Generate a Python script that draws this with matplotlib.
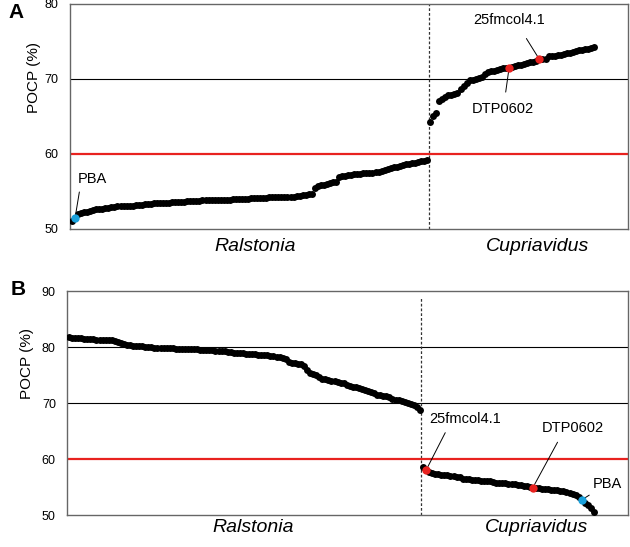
#!/usr/bin/env python3
# -*- coding: utf-8 -*-
# POCP of Ralstonia / Cupriavidus genomes against two reference strains

#IMPORT PACKAGES
import matplotlib
matplotlib.use("Agg")
import matplotlib.pyplot as plt

#DATA

# panel A - sorted ascending
ralstonia_a = [51.1, 51.4, 52.0, 52.1, 52.2, 52.3, 52.4, 52.5, 52.6, 52.7,
               52.7, 52.8, 52.8, 52.9, 52.9, 53.0, 53.0, 53.0, 53.1, 53.1,
               53.1, 53.2, 53.2, 53.2, 53.3, 53.3, 53.3, 53.4, 53.4,
               53.5, 53.5, 53.5, 53.5, 53.6, 53.6, 53.6, 53.6, 53.6, 53.7,
               53.7, 53.7, 53.7, 53.7, 53.8, 53.8, 53.8, 53.8, 53.8, 53.9,
               53.9, 53.9, 53.9, 53.9, 54.0, 54.0, 54.0, 54.0, 54.0, 54.0,
               54.1, 54.1, 54.1,
               54.1, 54.1, 54.1, 54.2, 54.2, 54.2, 54.2, 54.2, 54.3, 54.3,
               54.3, 54.3, 54.4, 54.4, 54.5, 54.5, 54.6, 54.7,
               55.5, 55.7, 55.8, 55.9, 56.0, 56.1, 56.2, 56.3,
               56.9, 57.0, 57.1, 57.2, 57.2, 57.3, 57.3, 57.3, 57.4, 57.4,
               57.5, 57.5, 57.6, 57.6, 57.7, 57.9, 58.0, 58.1, 58.2, 58.3,
               58.4, 58.5, 58.6, 58.7, 58.8, 58.8, 58.9, 59.0, 59.1, 59.2]
cupriavidus_a = [64.3, 65.1, 65.5, 67.0, 67.3, 67.6, 67.8, 67.9, 68.0, 68.1,
                 68.6, 69.0, 69.4, 69.8, 69.9, 70.0, 70.1, 70.3, 70.6, 70.9,
                 71.0, 71.1, 71.2, 71.3, 71.4, 71.4, 71.5, 71.6, 71.7, 71.8,
                 71.9, 72.0, 72.1, 72.2, 72.3, 72.4, 72.6, 72.6, 72.7, 73.0,
                 73.1, 73.1, 73.2, 73.2, 73.3, 73.4, 73.5, 73.6, 73.7, 73.8,
                 73.9, 74.0, 74.0, 74.1, 74.2]

# panel B - sorted descending
ralstonia_b = [81.7, 81.6, 81.6, 81.6, 81.6, 81.5,
               81.5, 81.4, 81.4, 81.3, 81.3, 81.2, 81.2, 81.2, 81.2, 81.1,
               80.9, 80.7, 80.5, 80.4, 80.3,
               80.2, 80.2, 80.1, 80.1, 80.0, 80.0, 80.0, 79.9, 79.9, 79.9,
               79.8, 79.8, 79.8, 79.8, 79.7, 79.7, 79.7, 79.7, 79.6, 79.6,
               79.6, 79.6, 79.5, 79.5, 79.5, 79.4, 79.4, 79.3, 79.3,
               79.2, 79.2, 79.1, 79.1, 79.0, 79.0, 78.9, 78.9, 78.8, 78.8,
               78.7, 78.7, 78.6, 78.6, 78.5, 78.5, 78.4, 78.4, 78.3, 78.3,
               78.1, 77.8, 77.4, 77.2, 77.1, 77.0, 76.9, 76.6, 75.9,
               75.3, 75.2, 75.0, 74.6, 74.3, 74.2, 74.1, 74.0, 73.9, 73.8,
               73.6, 73.5, 73.3, 73.1, 72.9, 72.8, 72.6, 72.5, 72.3, 72.1,
               71.9, 71.7, 71.5, 71.4, 71.3, 71.2, 71.0, 70.8, 70.6, 70.5,
               70.4, 70.2, 70.0, 69.8, 69.6, 69.3, 68.8]
cupriavidus_b = [58.6, 58.0, 57.7, 57.5,
                 57.4, 57.3, 57.2, 57.2, 57.1, 57.0, 56.9, 56.8, 56.7, 56.5,
                 56.4, 56.4, 56.3, 56.3, 56.2, 56.1, 56.1, 56.0, 56.0, 55.9, 55.8,
                 55.8, 55.7, 55.7, 55.6, 55.6, 55.5, 55.4, 55.3, 55.2, 55.1, 55.0, 54.9,
                 54.8, 54.8, 54.7, 54.7, 54.6, 54.5, 54.5, 54.4, 54.3, 54.2,
                 54.1, 54.0, 53.8, 53.6, 53.3,
                 52.7, 52.2, 51.7, 51.2, 50.6]

# highlighted strains: (label, group, position within group)
highlights_a = [("PBA", "ral", 1), ("DTP0602", "cup", 26), ("25fmcol4.1", "cup", 36)]
highlights_b = [("25fmcol4.1", "cup", 1), ("DTP0602", "cup", 36), ("PBA", "cup", 52)]

y_ticks_a = [50, 60, 70, 80]
y_ticks_b = [50, 60, 70, 80, 90]

RED = "#e8221f"
BLUE = "#1aa1dc"
FONT = "Liberation Sans"

#DEFINE FUNCTIONS

def draw_panel(ax, ral, cup, ylim, yticks, grid_at, highlights, notes, vline_top):
    vals = ral + cup
    xs = list(range(len(vals)))

    ax.plot(xs, vals, 'o', color="black", markersize=5.0, markeredgewidth=0, zorder=3)

    for label, group, idx in highlights:
        k = idx if group == "ral" else len(ral) + idx
        c = BLUE if label == "PBA" else RED
        ax.plot(k, vals[k], 'o', color=c, markersize=6.0, markeredgewidth=0, zorder=4)
        off, rel, shrink = notes[label]
        ax.annotate(label, xy=(k, vals[k]), xytext=off, textcoords="offset pixels",
                    ha="center", va="center", fontsize=10.5, family=FONT,
                    arrowprops=dict(arrowstyle="-", color="black", lw=0.7,
                                    relpos=rel, shrinkA=shrink, shrinkB=2.5))

    for g in grid_at:
        ax.axhline(g, color="black", lw=0.8, zorder=1)
    ax.axhline(60, color=RED, lw=1.6, zorder=2)
    ax.axvline(len(ral) - 0.5, ymax=vline_top, color="#333333", lw=0.9,
               ls=(0, (2.2, 1.6)), zorder=1)

    ax.set_xlim(-0.66, 183.2)
    ax.set_ylim(*ylim)
    ax.set_yticks(yticks)
    ax.set_xticks([])
    ax.tick_params(axis="y", length=0, pad=8, labelsize=9)
    for t in ax.get_yticklabels():
        t.set_family(FONT)
    for s in ax.spines.values():
        s.set_color("#666666")
        s.set_linewidth(1.0)


def main():
    fig = plt.figure(figsize=(6.3, 5.47), dpi=100)

    ax_a = fig.add_axes([0.111, 0.5814, 0.886, 0.4113])
    ax_b = fig.add_axes([0.1063, 0.0585, 0.8907, 0.4095])

    notes_a = {"PBA": ((17, 39), (0.1, 0.0), 2),
               "25fmcol4.1": ((-30, 39), (0.64, 0.0), 7),
               "DTP0602": ((-6, -41), (0.52, 1.0), 5)}
    notes_b = {"25fmcol4.1": ((39, 51), (0.27, 0.0), 3),
               "DTP0602": ((40, 60), (0.32, 0.0), 4),
               "PBA": ((26, 16), (0.1, 0.0), 2)}

    draw_panel(ax_a, ralstonia_a, cupriavidus_a, (50, 80), y_ticks_a, [70],
               highlights_a, notes_a, 1.0)
    draw_panel(ax_b, ralstonia_b, cupriavidus_b, (50, 90), y_ticks_b, [70, 80],
               highlights_b, notes_b, 0.973)

    # genus labels under each panel
    for ax, ypos in [(ax_a, -0.08), (ax_b, -0.054)]:
        ax.text(0.332, ypos, "Ralstonia", transform=ax.transAxes, ha="center", va="center",
                fontsize=14, style="italic", family=FONT)
        ax.text(0.837, ypos, "Cupriavidus", transform=ax.transAxes, ha="center", va="center",
                fontsize=14, style="italic", family=FONT)

    # y labels and panel letters
    fig.text(0.054, 0.859, "POCP (%)", rotation=90, ha="center", va="center",
             fontsize=11, family=FONT)
    fig.text(0.043, 0.336, "POCP (%)", rotation=90, ha="center", va="center",
             fontsize=11, family=FONT)
    fig.text(0.026, 0.977, "A", ha="center", va="center", fontsize=15,
             weight="bold", family=FONT)
    fig.text(0.029, 0.470, "B", ha="center", va="center", fontsize=15,
             weight="bold", family=FONT)

    fig.savefig("out.png", dpi=100)


if __name__ == "__main__":
    main()
